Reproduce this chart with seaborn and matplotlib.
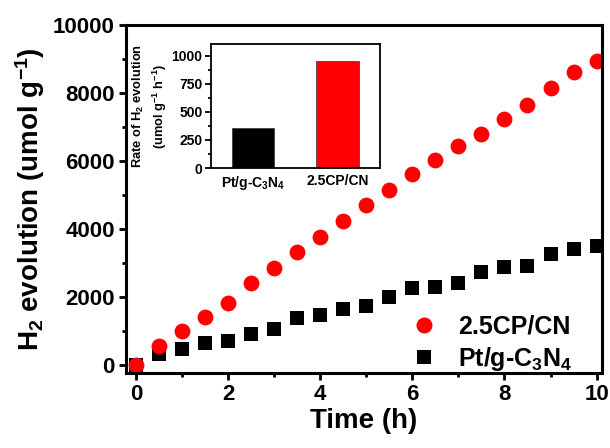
import numpy as np
import pandas as pd
import matplotlib
matplotlib.use("Agg")
import matplotlib.pyplot as plt
from matplotlib.ticker import MultipleLocator
from matplotlib.lines import Line2D
import seaborn as sns

time_h = [0, 0.5, 1, 1.5, 2, 2.5, 3, 3.5, 4, 4.5, 5, 5.5, 6, 6.5, 7, 7.5, 8, 8.5, 9, 9.5, 10]
cp_cn = [0, 560, 1010, 1420, 1815, 2400, 2865, 3310, 3755, 4245, 4695, 5135, 5605, 6020, 6450, 6805, 7225, 7655, 8150, 8610, 8930]
pt_gcn = [0, 314, 460, 657, 716, 922, 1060, 1372, 1460, 1657, 1735, 2010, 2275, 2304, 2422, 2745, 2892, 2912, 3255, 3400, 3510]

bar_labels = ["Pt/g-C$_3$N$_4$", "2.5CP/CN"]
bar_rates = [352, 955]
bar_colors = ["#000000", "#ff0000"]

sns.set_style("ticks")
plt.rcParams["font.family"] = ["Liberation Sans", "DejaVu Sans"]
plt.rcParams["font.weight"] = "bold"
plt.rcParams["mathtext.fontset"] = "custom"
plt.rcParams["mathtext.rm"] = "Liberation Sans:bold"
plt.rcParams["mathtext.it"] = "Liberation Sans:bold"
plt.rcParams["mathtext.bf"] = "Liberation Sans:bold"
for k in ["text.color", "axes.labelcolor", "xtick.color", "ytick.color", "axes.edgecolor"]:
    plt.rcParams[k] = "black"

fig = plt.figure(figsize=(6.1, 4.48), dpi=100)
ax = fig.add_axes([0.2066, 0.1674, 0.987 - 0.2066, 0.944 - 0.1674])

df = pd.DataFrame({"t": time_h, "cp": cp_cn, "pt": pt_gcn})
sns.scatterplot(data=df, x="t", y="pt", marker="s", color="black", s=95, linewidth=0, ax=ax)
sns.scatterplot(data=df, x="t", y="cp", marker="o", color="#ff0000", s=130, linewidth=0, ax=ax)

ax.set_xlim(-0.22, 10.12)
ax.set_ylim(-240, 10000)
ax.xaxis.set_major_locator(MultipleLocator(2))
ax.xaxis.set_minor_locator(MultipleLocator(1))
ax.yaxis.set_major_locator(MultipleLocator(2000))
ax.yaxis.set_minor_locator(MultipleLocator(1000))
ax.tick_params(which="major", direction="out", length=5, width=2, labelsize=16, pad=3)
ax.tick_params(which="minor", direction="out", length=3, width=2)
for lab in ax.get_xticklabels() + ax.get_yticklabels():
    lab.set_fontweight("bold")
for sp in ax.spines.values():
    sp.set_visible(True)
    sp.set_linewidth(2.2)
ax.set_xlabel("Time (h)", fontsize=20, fontweight="bold", labelpad=2)
ax.set_ylabel("H$_2$ evolution (umol g$^{-1}$)", fontsize=20, fontweight="bold", labelpad=4)

handles = [
    Line2D([], [], marker="o", color="#ff0000", linestyle="none", markersize=11.5, markeredgewidth=0),
    Line2D([], [], marker="s", color="black", linestyle="none", markersize=10, markeredgewidth=0),
]
ax.legend(handles, ["2.5CP/CN", "Pt/g-C$_3$N$_4$"], loc="lower right", frameon=False,
          prop={"size": 18, "weight": "bold"}, bbox_to_anchor=(0.985, -0.065),
          handletextpad=0.35, labelspacing=0.25)

# inset
ins = fig.add_axes([0.3454, 0.625, 0.2775, 0.2768])
bdf = pd.DataFrame({"sample": bar_labels, "rate": bar_rates})
sns.barplot(data=bdf, x="sample", y="rate", hue="sample", palette=bar_colors,
            width=0.5, legend=False, ax=ins, saturation=1, edgecolor="#333333", linewidth=0.5)
ins.set_xlim(-0.5, 1.5)
ins.set_ylim(0, 1105)
ins.yaxis.set_major_locator(MultipleLocator(250))
ins.yaxis.set_minor_locator(MultipleLocator(125))
ins.tick_params(axis="y", which="major", direction="out", length=4, width=1.3, labelsize=10, pad=2)
ins.tick_params(axis="y", which="minor", direction="out", length=2, width=1.3)
ins.tick_params(axis="x", length=0, labelsize=10, pad=4)
for lab in ins.get_xticklabels() + ins.get_yticklabels():
    lab.set_fontweight("bold")
for sp in ins.spines.values():
    sp.set_visible(True)
    sp.set_linewidth(1.3)
ins.set_xlabel("")
ins.set_ylabel("Rate of H$_2$ evolution\n(umol g$^{-1}$ h$^{-1}$)", fontsize=9.3, fontweight="bold",
               labelpad=2, linespacing=1.3)

fig.savefig("out.png", dpi=100)
